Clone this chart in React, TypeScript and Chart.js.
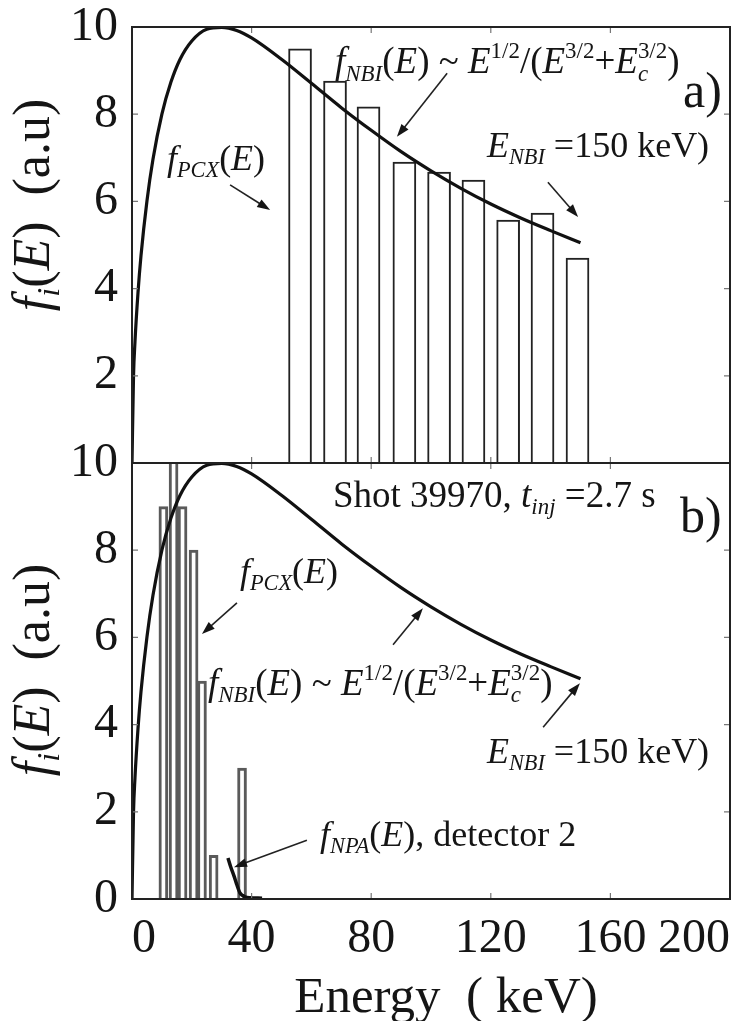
import React, { useEffect, useRef } from 'react';
import { Chart, registerables } from 'chart.js';

Chart.register(...registerables);

const FONT = '"Liberation Serif", "Times New Roman", serif';
const INK = '#151515';

// ---- data ----
const curveEnergy = [0, 0.5, 1, 2, 3, 5, 7, 10, 13, 16, 20, 25, 30, 35, 40, 50, 60, 70, 80, 90, 100, 110, 120, 130, 140, 150];
const curveValue = [0, 1.97, 2.78, 3.9, 4.75, 6.01, 6.96, 8.0, 8.73, 9.25, 9.68, 9.95, 9.99, 9.92, 9.75, 9.26, 8.71, 8.15, 7.63, 7.14, 6.7, 6.3, 5.94, 5.62, 5.33, 5.05];

const topBarEnergy = [56.2, 67.9, 79.1, 91.1, 102.7, 114.2, 125.8, 137.3, 149.0];
const topBarValue = [9.5, 8.76, 8.17, 6.9, 6.67, 6.49, 5.57, 5.73, 4.7];

const botBarEnergy = [10.5, 13.9, 16.9, 20.6, 23.4, 27.3, 36.8];
const botBarValue = [9.0, 10.6, 9.0, 8.0, 5.0, 1.0, 3.0];

const npaEnergy = [32.1, 33.0, 34.1, 35.0, 36.1, 37.0, 37.8, 39.5, 43.5];
const npaValue = [0.94, 0.74, 0.53, 0.34, 0.14, 0.08, 0.05, 0.03, 0.02];

const xTickValues = [0, 40, 80, 120, 160, 200];
const yTickValues = [0, 2, 4, 6, 8, 10];

// ---- text annotations ----
type Seg = { t: string; it?: boolean; pos?: 'sub' | 'sup'; keep?: boolean };
const segPCX: Seg[] = [{ t: 'f', it: true }, { t: 'PCX', it: true, pos: 'sub' }, { t: '(' }, { t: 'E', it: true }, { t: ')' }];
const segNBI: Seg[] = [
  { t: 'f', it: true }, { t: 'NBI', it: true, pos: 'sub' }, { t: '(' }, { t: 'E', it: true }, { t: ') ~ ' },
  { t: 'E', it: true }, { t: '1/2', pos: 'sup' }, { t: '/(' }, { t: 'E', it: true }, { t: '3/2', pos: 'sup' },
  { t: '+' }, { t: 'E', it: true }, { t: 'c', it: true, pos: 'sub', keep: true }, { t: '3/2', pos: 'sup' }, { t: ')' },
];
const segENBI: Seg[] = [{ t: 'E', it: true }, { t: 'NBI', it: true, pos: 'sub' }, { t: ' =150 keV)' }];
const segShot: Seg[] = [{ t: 'Shot 39970, ' }, { t: 't', it: true }, { t: 'inj', it: true, pos: 'sub' }, { t: ' =2.7 s' }];
const segNPA: Seg[] = [{ t: 'f', it: true }, { t: 'NPA', it: true, pos: 'sub' }, { t: '(' }, { t: 'E', it: true }, { t: '), detector 2' }];
const segYTitle: Seg[] = [{ t: 'f', it: true }, { t: 'i', it: true, pos: 'sub' }, { t: '(' }, { t: 'E', it: true }, { t: ')  (a.u)' }];
const segXTitle: Seg[] = [{ t: 'Energy  ( keV)' }];

type Note = { segs: Seg[]; e: number; f: number; size: number };
type Arrow = { e1: number; f1: number; e2: number; f2: number };

const topNotes: Note[] = [
  { segs: segPCX, e: 11.7, f: 6.72, size: 36 },
  { segs: segNBI, e: 67.9, f: 8.94, size: 37 },
  { segs: segENBI, e: 118.7, f: 7.02, size: 36 },
  { segs: [{ t: 'a)' }], e: 184.3, f: 8.17, size: 50 },
];
const topArrows: Arrow[] = [
  { e1: 32.8, f1: 6.38, e2: 46.2, f2: 5.8 },
  { e1: 105.4, f1: 8.94, e2: 88.6, f2: 7.48 },
  { e1: 139.1, f1: 6.44, e2: 149.2, f2: 5.64 },
];
const botNotes: Note[] = [
  { segs: segShot, e: 67.2, f: 8.99, size: 37 },
  { segs: [{ t: 'b)' }], e: 183.3, f: 8.42, size: 50 },
  { segs: segPCX, e: 36.1, f: 7.25, size: 36 },
  { segs: segNBI, e: 25.4, f: 4.68, size: 37 },
  { segs: segENBI, e: 118.7, f: 3.12, size: 36 },
  { segs: segNPA, e: 62.9, f: 1.22, size: 36 },
];
const botArrows: Arrow[] = [
  { e1: 35.1, f1: 6.79, e2: 23.4, f2: 6.08 },
  { e1: 87.3, f1: 5.83, e2: 97.3, f2: 6.67 },
  { e1: 137.5, f1: 3.94, e2: 149.8, f2: 4.95 },
  { e1: 58.5, f1: 1.35, e2: 34.1, f2: 0.73 },
];

function drawRich(ctx: CanvasRenderingContext2D, segs: Seg[], x: number, y: number, size: number, draw = true): number {
  let cx = x;
  let keepW = 0;
  for (const s of segs) {
    const sz = s.pos ? size * 0.62 : size;
    ctx.font = `${s.it ? 'italic ' : ''}${sz}px ${FONT}`;
    const w = ctx.measureText(s.t).width;
    const dy = s.pos === 'sub' ? size * 0.2 : s.pos === 'sup' ? -size * 0.4 : 0;
    if (draw) ctx.fillText(s.t, cx, y + dy);
    if (s.keep) {
      keepW = w;
      continue;
    }
    cx += Math.max(w, keepW);
    keepW = 0;
  }
  return cx - x;
}

function drawArrow(ctx: CanvasRenderingContext2D, x1: number, y1: number, x2: number, y2: number) {
  const a = Math.atan2(y2 - y1, x2 - x1);
  const L = 13;
  const W = 4.5;
  ctx.beginPath();
  ctx.moveTo(x1, y1);
  ctx.lineTo(x2 - (L - 2) * Math.cos(a), y2 - (L - 2) * Math.sin(a));
  ctx.stroke();
  ctx.beginPath();
  ctx.moveTo(x2, y2);
  ctx.lineTo(x2 - L * Math.cos(a) + W * Math.sin(a), y2 - L * Math.sin(a) - W * Math.cos(a));
  ctx.lineTo(x2 - L * Math.cos(a) - W * Math.sin(a), y2 - L * Math.sin(a) + W * Math.cos(a));
  ctx.closePath();
  ctx.fill();
}

const framePlugin = {
  id: 'frame',
  afterDatasetsDraw(chart: any) {
    const { ctx, chartArea } = chart;
    const { left, right, top, bottom } = chartArea;
    const xs = chart.scales.x;
    const ys = chart.scales.y;
    ctx.save();
    ctx.strokeStyle = '#777';
    ctx.lineWidth = 1.2;
    for (const v of xTickValues.slice(1, -1)) {
      const px = xs.getPixelForValue(v);
      ctx.beginPath();
      ctx.moveTo(px, top);
      ctx.lineTo(px, top + 6);
      ctx.moveTo(px, bottom);
      ctx.lineTo(px, bottom - 6);
      ctx.stroke();
    }
    for (const v of yTickValues.slice(1, -1)) {
      const py = ys.getPixelForValue(v);
      ctx.beginPath();
      ctx.moveTo(left, py);
      ctx.lineTo(left + 6, py);
      ctx.moveTo(right, py);
      ctx.lineTo(right - 6, py);
      ctx.stroke();
    }
    ctx.strokeStyle = '#222';
    ctx.lineWidth = 2;
    ctx.strokeRect(left, top, right - left, bottom - top);
    ctx.restore();
  },
};

const notesPlugin = {
  id: 'notes',
  afterDraw(chart: any, _args: any, opts: any) {
    const { ctx, chartArea } = chart;
    const xs = chart.scales.x;
    const ys = chart.scales.y;
    ctx.save();
    ctx.fillStyle = INK;
    ctx.strokeStyle = '#222';
    ctx.lineWidth = 1.6;
    ctx.textBaseline = 'alphabetic';
    ctx.textAlign = 'left';
    for (const n of opts.notes as Note[]) {
      drawRich(ctx, n.segs, xs.getPixelForValue(n.e), ys.getPixelForValue(n.f), n.size);
    }
    for (const a of opts.arrows as Arrow[]) {
      drawArrow(ctx, xs.getPixelForValue(a.e1), ys.getPixelForValue(a.f1), xs.getPixelForValue(a.e2), ys.getPixelForValue(a.f2));
    }
    // y axis title (rotated)
    const mid = (chartArea.top + chartArea.bottom) / 2 + opts.yTitleShift;
    ctx.save();
    ctx.translate(49, mid);
    ctx.rotate(-Math.PI / 2);
    const w = drawRich(ctx, segYTitle, 0, 0, 52, false);
    drawRich(ctx, segYTitle, -w / 2, 0, 52);
    ctx.restore();
    if (opts.xTitle) {
      const wx = drawRich(ctx, segXTitle, 0, 0, 51, false);
      const cx = (chartArea.left + chartArea.right) / 2 + 15;
      drawRich(ctx, segXTitle, cx - wx / 2, chartArea.bottom + 113, 51);
    }
    ctx.restore();
  },
};

const TOP_H = 470;
const BOT_TOP = 430;
const BOT_H = 1021 - BOT_TOP;

function buildConfig(isTop: boolean): any {
  const curve = curveEnergy.map((e, i) => ({ x: e, y: curveValue[i] }));
  const barsE = isTop ? topBarEnergy : botBarEnergy;
  const barsV = isTop ? topBarValue : botBarValue;
  const bars = barsE.map((e, i) => ({ x: e, y: barsV[i] }));
  const datasets: any[] = [
    {
      type: 'line',
      data: curve,
      borderColor: '#111',
      borderWidth: 3.2,
      pointRadius: 0,
      cubicInterpolationMode: 'monotone',
      order: 0,
    },
  ];
  if (!isTop) {
    datasets.push({
      type: 'line',
      data: npaEnergy.map((e, i) => ({ x: e, y: npaValue[i] })),
      borderColor: '#111',
      borderWidth: 3.5,
      pointRadius: 0,
      cubicInterpolationMode: 'monotone',
      order: 0,
    });
  }
  datasets.push({
    type: 'bar',
    data: bars,
    backgroundColor: '#ffffff',
    borderColor: isTop ? '#222' : '#5a5a5a',
    borderWidth: isTop ? 2 : 3,
    barThickness: isTop ? 23 : 9,
    grouped: false,
    order: 1,
  });
  const tickFont = { family: FONT, size: 48, lineHeight: 1 };
  return {
    type: 'bar',
    data: { datasets },
    options: {
      animation: false,
      responsive: false,
      devicePixelRatio: 1,
      layout: { padding: { left: 0, right: 24, top: isTop ? 27 : 33, bottom: isTop ? 7 : 0 } },
      plugins: {
        legend: { display: false },
        tooltip: { enabled: false },
        notes: {
          notes: isTop ? topNotes : botNotes,
          arrows: isTop ? topArrows : botArrows,
          yTitleShift: isTop ? -40 : -11,
          xTitle: !isTop,
        },
      },
      scales: {
        x: {
          type: 'linear',
          min: 0,
          max: 200,
          offset: false,
          display: !isTop,
          grid: { display: false, offset: false, drawTicks: false },
          border: { display: false },
          ticks: {
            stepSize: 40,
            padding: 16,
            font: tickFont,
            color: INK,
            maxRotation: 0,
            autoSkip: false,
            align: 'inner',
          },
          afterFit: (s: any) => {
            if (!isTop) s.height = 122;
            s.paddingLeft = 0;
            s.paddingRight = 0;
          },
        },
        y: {
          type: 'linear',
          min: 0,
          max: 10,
          grid: { display: false, drawTicks: false },
          border: { display: false },
          ticks: {
            stepSize: 2,
            padding: 14,
            font: tickFont,
            color: INK,
            callback: (v: number) => (isTop && v === 0 ? '' : String(v)),
          },
          afterFit: (s: any) => {
            s.width = 132;
            s.paddingTop = 0;
            s.paddingBottom = 0;
          },
        },
      },
    },
    plugins: [framePlugin, notesPlugin],
  };
}

export default function App() {
  const topRef = useRef<HTMLCanvasElement>(null);
  const botRef = useRef<HTMLCanvasElement>(null);
  useEffect(() => {
    const top = new Chart(topRef.current as HTMLCanvasElement, buildConfig(true));
    const bot = new Chart(botRef.current as HTMLCanvasElement, buildConfig(false));
    return () => {
      top.destroy();
      bot.destroy();
    };
  }, []);
  return (
    <div style={{ position: 'absolute', left: 0, top: 0, width: 754, height: 1021, background: '#fff', overflow: 'hidden' }}>
      <canvas ref={topRef} width={754} height={TOP_H} style={{ position: 'absolute', left: 0, top: 0, width: 754, height: TOP_H }} />
      <canvas ref={botRef} width={754} height={BOT_H} style={{ position: 'absolute', left: 0, top: BOT_TOP, width: 754, height: BOT_H }} />
    </div>
  );
}
